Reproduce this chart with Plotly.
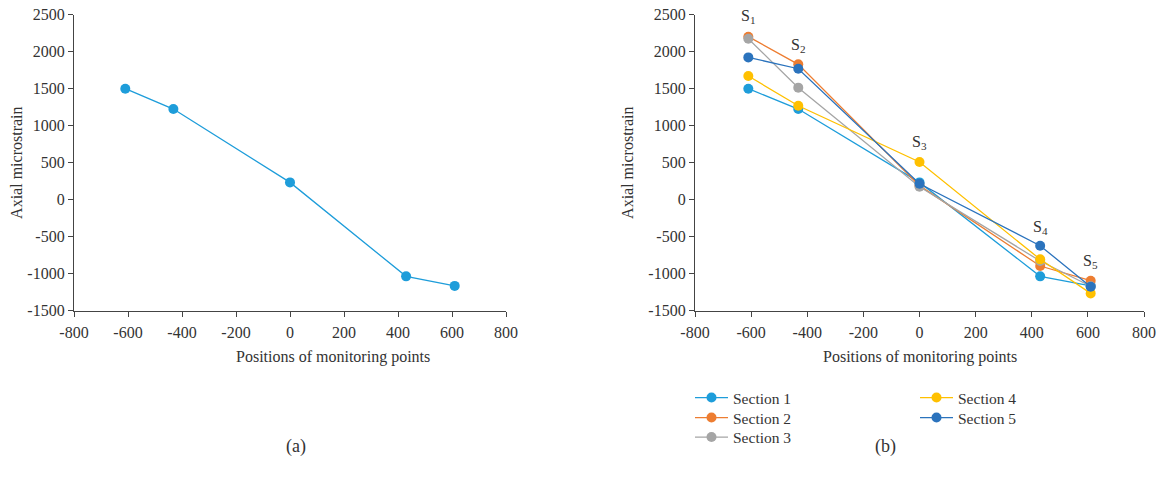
import plotly.graph_objects as go

positions = [-610, -432, 0, 430, 610]
section_names = ["Section 1", "Section 2", "Section 3", "Section 4", "Section 5"]
section1 = [1500, 1225, 234, -1036, -1165]
section2 = [2203, 1829, 190, -896, -1095]
section3 = [2176, 1514, 176, -829, -1170]
section4 = [1671, 1270, 509, -806, -1266]
section5 = [1923, 1770, 216, -622, -1176]
colors = ["#1E9DDA", "#ED7D31", "#A5A5A5", "#FFC000", "#2B73BD"]

point_labels = ["S<sub>1</sub>", "S<sub>2</sub>", "S<sub>3</sub>", "S<sub>4</sub>", "S<sub>5</sub>"]
label_y = [2480, 2080, 770, -370, -840]

x_ticks = [-800, -600, -400, -200, 0, 200, 400, 600, 800]
x_tick_text = ["-800", "-600", "-400", "-200", "0", "200", "400", "600", "800"]
y_ticks = [-1500, -1000, -500, 0, 500, 1000, 1500, 2000, 2500]
y_tick_text = ["-1500", "-1000", "-500", "0", "500", "1000", "1500", "2000", "2500"]

FONT = "Liberation Serif"
TXT = "#333333"

fig = go.Figure()

# (a)
fig.add_trace(go.Scatter(
    x=positions, y=section1, mode="lines+markers",
    line=dict(color=colors[0], width=1.3),
    marker=dict(size=10, color=colors[0]),
    showlegend=False, xaxis="x", yaxis="y"))

# (b)
legend_ids = ["legend", "legend2", "legend3", "legend4", "legend5"]
all_sections = [section1, section2, section3, section4, section5]
for i, (name, vals) in enumerate(zip(section_names, all_sections)):
    fig.add_trace(go.Scatter(
        x=positions, y=vals, mode="lines+markers", name=name,
        line=dict(color=colors[i], width=1.3),
        marker=dict(size=10, color=colors[i]),
        xaxis="x2", yaxis="y2", legend=legend_ids[i]))

axis_common = dict(
    showgrid=False, zeroline=False, showline=True, linecolor="#444444", linewidth=1.2,
    ticks="outside", ticklen=5, tickcolor="#444444", tickwidth=1.2, automargin=False,
    tickfont=dict(family=FONT, size=16, color=TXT),
)

ydom = [1 - 310.7 / 487, 1 - 14.7 / 487]

legend_pos = [(690, 381), (690, 401), (690, 420.5), (915, 381), (915, 401)]
legends = {}
for lid, (lx, ly) in zip(legend_ids, legend_pos):
    legends[lid] = dict(x=lx / 1162, y=1 - ly / 487, xanchor="left", yanchor="top",
                        orientation="v", itemwidth=33,
                        font=dict(family=FONT, size=15.5, color=TXT), bgcolor="rgba(0,0,0,0)")

fig.update_layout(
    template="none",
    width=1162, height=487,
    margin=dict(l=0, r=0, t=0, b=0, pad=0),
    paper_bgcolor="white", plot_bgcolor="white",
    font=dict(family=FONT, size=16, color=TXT),
    xaxis=dict(domain=[74 / 1162, 506 / 1162], range=[-800, 800], tickvals=x_ticks,
               ticktext=x_tick_text, anchor="y", ticklabelstandoff=2, **axis_common),
    yaxis=dict(domain=ydom, range=[-1500, 2500], tickvals=y_ticks, ticktext=y_tick_text, anchor="x",
               title=dict(text="Axial microstrain", standoff=0, font=dict(family=FONT, size=16, color=TXT)),
               **axis_common),
    xaxis2=dict(domain=[695 / 1162, 1144 / 1162], range=[-800, 800], tickvals=x_ticks,
                ticktext=x_tick_text, anchor="y2", ticklabelstandoff=2, **axis_common),
    yaxis2=dict(domain=ydom, range=[-1500, 2500], tickvals=y_ticks, ticktext=y_tick_text, anchor="x2",
                title=dict(text="Axial microstrain", standoff=10, font=dict(family=FONT, size=16, color=TXT)),
                **axis_common),
    **legends,
)

annotations = []
for lbl, xv, yv in zip(point_labels, positions, label_y):
    annotations.append(dict(x=xv, y=yv, xref="x2", yref="y2", text=lbl, showarrow=False,
                            xanchor="center", yanchor="middle",
                            font=dict(family=FONT, size=16, color=TXT)))
for cx in (333, 920):
    annotations.append(dict(x=cx / 1162, y=1 - 357 / 487, xref="paper", yref="paper",
                            text="Positions of monitoring points", showarrow=False,
                            xanchor="center", yanchor="middle",
                            font=dict(family=FONT, size=16, color=TXT)))
for cx, t in ((296, "(a)"), (885, "(b)")):
    annotations.append(dict(x=cx / 1162, y=1 - 446 / 487, xref="paper", yref="paper",
                            text=t, showarrow=False, xanchor="center", yanchor="middle",
                            font=dict(family=FONT, size=18, color=TXT)))
fig.update_layout(annotations=annotations)

fig.write_html("out.html")
